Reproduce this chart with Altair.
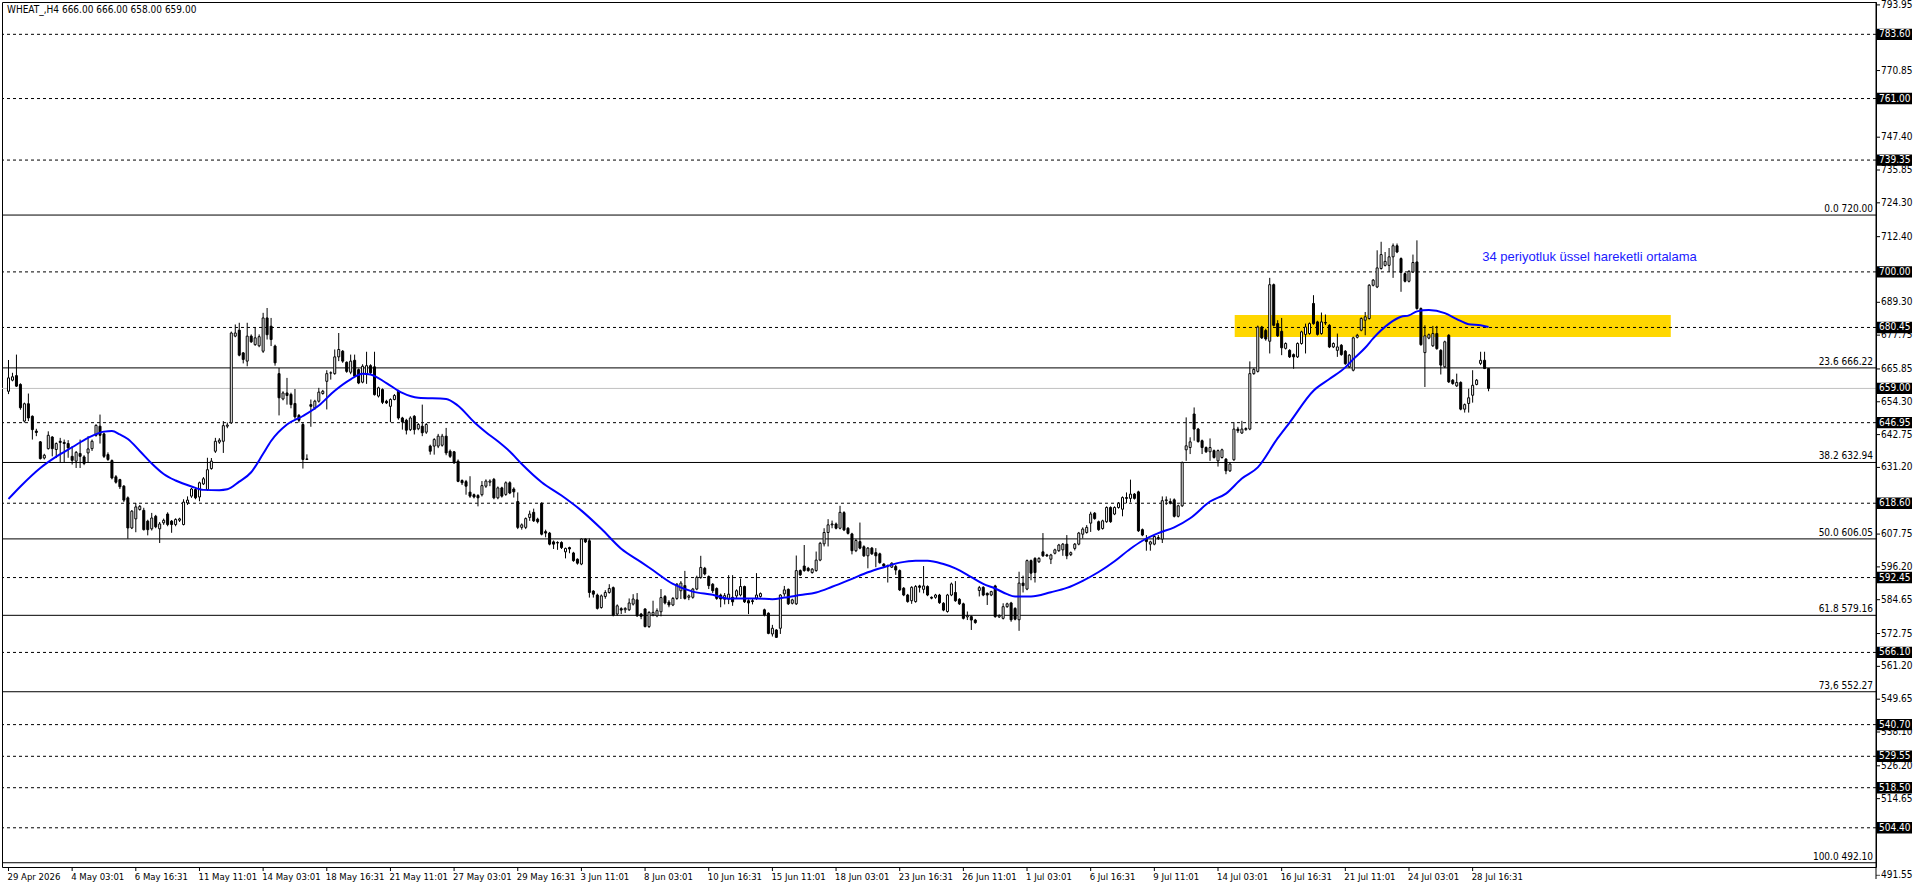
import altair as alt
import pandas as pd

FONT = "Tahoma, 'DejaVu Sans Condensed', 'Liberation Sans', sans-serif"

# ---------------- data: H4 candles (index = bar number) ----------------
opens = [
    658.0, 661.9, 663.5, 660.4, 647.5, 653.6, 649.2, 644.0, 640.2, 634.5,
    637.8, 641.9, 637.5, 640.4, 640.0, 639.6, 635.1, 633.4, 636.1, 634.9,
    636.3, 637.8, 642.5, 645.7, 643.0, 635.7, 633.6, 627.9, 626.9, 624.6,
    620.5, 609.9, 613.1, 616.4, 616.1, 612.3, 609.6, 614.0, 609.6, 611.7,
    614.8, 612.3, 611.1, 612.6, 611.1, 618.7, 621.1, 623.4, 620.8, 625.4,
    623.4, 630.8, 636.9, 640.1, 640.4, 645.7, 646.9, 677.4, 679.5, 671.5,
    668.6, 677.4, 674.4, 674.0, 672.1, 683.8, 680.9, 673.9, 664.2, 655.3,
    657.4, 656.9, 653.7, 649.5, 646.3, 634.0, 653.3, 652.1, 654.5, 657.2,
    661.5, 664.4, 664.2, 670.1, 672.1, 668.2, 664.7, 668.9, 665.6, 661.2,
    663.9, 667.0, 666.6, 656.3, 658.6, 654.5, 652.7, 655.1, 658.0, 648.6,
    647.8, 644.5, 649.2, 644.8, 645.7, 643.6, 638.7, 638.7, 638.7, 639.0,
    642.2, 636.9, 636.7, 633.4, 626.6, 626.2, 622.5, 621.6, 621.3, 621.6,
    624.6, 626.0, 627.0, 620.5, 624.0, 621.7, 625.8, 623.6, 619.2, 610.1,
    610.1, 613.6, 615.4, 613.0, 618.6, 608.6, 608.1, 605.0, 604.6, 604.8,
    601.5, 603.0, 601.1, 598.9, 597.2, 606.0, 605.4, 587.7, 586.3, 581.9,
    585.8, 587.2, 588.9, 579.6, 581.5, 581.1, 581.1, 583.1, 584.6, 579.6,
    581.4, 575.2, 579.3, 579.0, 580.4, 585.8, 583.8, 582.8, 585.1, 587.8,
    589.6, 585.5, 585.5, 588.4, 592.5, 595.7, 592.8, 590.1, 588.6, 586.3,
    584.8, 584.9, 585.5, 586.0, 586.3, 589.3, 584.3, 584.3, 585.2, 585.8,
    581.1, 579.9, 572.6, 574.0, 574.6, 586.7, 588.3, 583.4, 583.2, 594.9,
    596.5, 595.7, 594.2, 594.9, 598.6, 604.3, 608.3, 611.0, 611.3, 609.8,
    615.3, 609.8, 607.8, 601.9, 605.1, 603.3, 600.1, 602.8, 601.2, 600.8,
    597.2, 596.5, 596.1, 596.3, 594.9, 588.7, 586.3, 584.3, 584.0, 589.5,
    588.3, 589.3, 585.5, 585.5, 586.3, 583.4, 580.5, 586.3, 587.2, 584.8,
    583.2, 578.6, 578.7, 577.5, 587.9, 589.0, 586.9, 586.3, 589.5, 578.6,
    578.1, 582.2, 583.5, 581.6, 577.6, 590.5, 588.4, 598.4, 599.2, 598.0,
    601.5, 600.4, 598.9, 601.0, 601.9, 602.2, 604.2, 600.5, 602.7, 604.2,
    607.7, 608.3, 611.6, 615.1, 612.1, 609.7, 612.1, 617.1, 614.8, 617.1,
    616.5, 620.6, 620.3, 621.8, 622.6, 609.3, 605.9, 604.2, 604.2, 606.5,
    606.0, 619.5, 619.2, 619.8, 614.0, 617.7, 637.4, 638.2, 650.0, 644.7,
    640.6, 638.2, 636.7, 637.1, 633.5, 634.7, 634.1, 630.0, 633.9, 644.7,
    643.3, 644.5, 644.7, 664.2, 665.0, 680.6, 679.4, 675.6, 695.5, 681.8,
    679.1, 673.1, 672.4, 670.9, 670.1, 674.8, 678.0, 678.3, 688.9, 682.4,
    678.3, 682.2, 681.2, 673.6, 672.4, 674.2, 672.1, 666.6, 665.4, 677.0,
    679.5, 683.0, 683.6, 695.3, 694.7, 701.2, 702.3, 702.3, 705.3, 709.2,
    704.7, 699.4, 696.7, 700.0, 703.5, 687.1, 671.6, 676.7, 674.0, 678.3,
    672.4, 666.6, 677.7, 661.9, 659.9, 661.1, 651.7, 653.7, 656.6, 660.4,
    667.8, 668.9, 666.0,
]
highs = [
    669.0, 664.5, 670.9, 660.8, 654.0, 657.2, 649.5, 644.8, 640.5, 636.0,
    643.9, 642.2, 640.0, 641.6, 641.0, 640.8, 638.7, 637.0, 641.0, 635.5,
    642.2, 641.0, 646.4, 649.8, 643.5, 636.5, 634.0, 628.5, 627.2, 625.0,
    621.0, 616.2, 618.7, 618.0, 617.0, 612.8, 615.2, 614.5, 612.0, 613.2,
    615.4, 612.7, 613.3, 613.5, 620.0, 621.0, 624.0, 624.0, 626.2, 627.8,
    634.6, 634.5, 641.6, 641.5, 647.5, 647.0, 679.0, 681.5, 682.1, 671.8,
    682.1, 678.0, 680.6, 678.0, 685.6, 687.3, 683.8, 674.4, 666.2, 658.0,
    662.7, 657.5, 658.8, 650.0, 646.9, 635.8, 655.1, 655.0, 659.2, 658.5,
    665.4, 665.0, 672.7, 678.5, 672.5, 668.5, 670.9, 670.9, 666.0, 667.5,
    671.9, 667.5, 671.9, 659.6, 659.0, 655.0, 655.5, 657.0, 658.5, 649.0,
    648.3, 649.2, 649.6, 646.8, 653.3, 646.8, 639.2, 641.5, 643.0, 643.0,
    645.1, 637.5, 637.0, 634.0, 627.0, 626.8, 628.1, 622.0, 621.8, 626.4,
    627.0, 627.0, 627.5, 624.5, 624.4, 626.3, 626.3, 624.2, 622.4, 611.5,
    613.6, 616.0, 616.7, 613.5, 618.9, 609.3, 608.5, 605.5, 605.2, 605.2,
    603.0, 603.3, 601.5, 599.2, 606.2, 606.2, 606.2, 588.0, 586.8, 586.5,
    588.0, 590.1, 589.3, 583.0, 582.0, 582.0, 585.1, 586.6, 587.0, 580.0,
    581.6, 580.6, 584.3, 581.6, 588.4, 586.3, 584.5, 585.6, 590.5, 591.2,
    594.8, 586.5, 588.8, 593.1, 600.1, 596.2, 593.2, 590.5, 589.0, 586.8,
    587.0, 593.3, 593.3, 588.3, 592.1, 589.6, 584.8, 585.0, 594.0, 587.2,
    581.5, 580.2, 575.8, 574.3, 586.6, 589.5, 588.6, 585.0, 600.2, 595.3,
    603.9, 596.2, 595.8, 601.6, 605.0, 609.8, 613.0, 612.5, 611.8, 617.7,
    615.8, 610.2, 608.2, 606.0, 611.8, 603.8, 603.2, 603.2, 602.8, 601.2,
    597.5, 597.0, 597.8, 596.9, 595.3, 589.1, 586.7, 589.4, 589.8, 589.9,
    596.5, 589.7, 585.8, 586.7, 586.7, 583.8, 586.7, 590.7, 591.2, 585.2,
    583.6, 580.5, 579.1, 577.9, 589.5, 589.4, 587.2, 587.8, 589.9, 579.5,
    583.4, 583.6, 583.9, 582.0, 594.5, 593.1, 598.8, 598.8, 599.6, 599.6,
    608.1, 600.8, 600.8, 602.6, 604.3, 604.6, 607.4, 601.6, 604.6, 608.5,
    610.1, 610.9, 615.6, 615.5, 612.5, 612.8, 617.5, 617.5, 617.5, 619.0,
    621.0, 622.4, 626.9, 622.2, 623.0, 609.7, 607.4, 605.4, 607.3, 607.4,
    621.0, 621.0, 620.3, 620.3, 618.1, 633.3, 648.8, 641.8, 652.3, 645.1,
    641.0, 638.6, 641.4, 637.5, 637.5, 637.8, 634.5, 632.8, 647.1, 645.5,
    647.6, 645.3, 668.5, 666.1, 681.1, 681.0, 680.0, 697.9, 695.9, 683.0,
    683.8, 675.2, 672.8, 671.3, 675.2, 679.3, 681.8, 682.2, 691.8, 682.8,
    685.7, 685.0, 681.6, 675.2, 678.3, 674.6, 672.5, 671.1, 677.2, 678.2,
    684.0, 685.9, 695.7, 697.5, 707.6, 710.6, 707.0, 708.4, 710.0, 710.0,
    705.1, 699.8, 700.6, 706.1, 711.1, 687.5, 681.2, 678.3, 681.0, 681.0,
    672.8, 675.8, 678.1, 662.3, 664.2, 661.5, 653.7, 658.9, 665.4, 662.3,
    671.9, 671.9, 666.0,
]
lows = [
    657.0, 661.5, 659.5, 651.5, 647.0, 647.5, 641.0, 642.2, 634.0, 634.0,
    637.5, 635.1, 634.5, 632.8, 632.8, 634.6, 632.2, 631.0, 631.0, 632.0,
    632.8, 637.0, 642.0, 639.6, 634.5, 633.5, 627.0, 625.5, 623.6, 619.0,
    606.1, 609.5, 608.4, 616.0, 609.0, 607.3, 609.0, 609.8, 604.6, 611.0,
    610.5, 608.2, 610.5, 612.0, 610.8, 618.0, 620.5, 620.0, 619.3, 625.0,
    623.0, 630.4, 636.3, 639.5, 636.3, 645.0, 646.5, 677.0, 670.3, 667.8,
    666.8, 675.0, 674.0, 673.5, 671.5, 676.2, 673.9, 667.0, 649.5, 654.8,
    653.3, 652.0, 648.3, 647.0, 630.8, 633.8, 645.5, 651.5, 654.0, 656.8,
    651.6, 662.1, 663.8, 668.6, 668.0, 664.5, 664.0, 663.0, 660.5, 660.8,
    660.6, 664.0, 656.5, 655.8, 653.5, 653.5, 647.1, 654.8, 648.0, 644.5,
    642.8, 644.0, 642.8, 644.3, 642.2, 643.0, 635.7, 635.7, 638.0, 638.5,
    635.5, 634.5, 632.5, 626.0, 625.0, 621.6, 620.5, 620.3, 617.5, 621.0,
    624.0, 624.6, 620.0, 620.0, 620.6, 621.2, 621.8, 620.6, 609.5, 609.3,
    609.5, 612.4, 612.0, 611.5, 607.3, 606.6, 603.8, 602.5, 602.2, 602.5,
    599.2, 601.0, 598.0, 597.0, 596.8, 604.6, 585.4, 585.4, 581.2, 581.5,
    585.0, 586.8, 578.8, 579.0, 579.6, 580.0, 580.7, 582.6, 578.6, 577.8,
    574.9, 574.7, 578.8, 578.5, 578.8, 583.0, 582.0, 582.4, 584.6, 584.9,
    584.7, 584.5, 585.0, 588.0, 592.0, 593.2, 588.4, 587.0, 584.6, 582.0,
    583.0, 583.1, 582.5, 584.9, 585.8, 583.5, 579.6, 583.0, 584.6, 585.4,
    578.8, 572.5, 571.7, 571.2, 572.6, 585.8, 582.8, 583.0, 582.8, 593.0,
    594.5, 594.5, 593.8, 594.5, 598.2, 603.4, 603.4, 609.8, 609.4, 609.4,
    608.8, 607.6, 600.6, 601.4, 602.4, 599.7, 595.7, 600.4, 596.1, 597.3,
    596.1, 590.7, 595.8, 593.4, 587.7, 585.9, 583.6, 583.2, 583.6, 587.2,
    586.9, 585.9, 584.8, 585.0, 583.2, 580.6, 580.1, 585.9, 583.9, 582.8,
    577.7, 577.5, 574.0, 576.2, 585.8, 585.9, 582.8, 585.9, 578.3, 578.2,
    577.7, 581.8, 576.9, 577.4, 573.7, 587.2, 588.0, 591.5, 590.7, 597.6,
    599.7, 599.7, 597.2, 600.6, 601.5, 600.1, 598.9, 600.0, 602.0, 603.8,
    606.2, 607.9, 608.5, 612.8, 608.9, 609.3, 611.7, 611.7, 614.4, 616.7,
    614.0, 618.6, 618.9, 619.9, 608.5, 607.0, 601.9, 601.9, 603.8, 605.7,
    604.6, 618.0, 618.2, 613.6, 613.6, 617.3, 633.5, 635.9, 640.6, 639.9,
    635.9, 636.3, 633.5, 634.3, 631.5, 634.3, 628.8, 629.6, 633.5, 643.3,
    643.0, 644.1, 644.3, 663.8, 664.6, 676.4, 675.8, 671.3, 680.8, 677.1,
    670.7, 672.7, 669.7, 665.9, 669.7, 674.4, 671.3, 677.9, 681.4, 677.6,
    677.9, 681.3, 673.2, 673.2, 670.1, 670.5, 667.3, 666.2, 665.0, 676.6,
    679.1, 677.7, 683.2, 694.9, 694.3, 700.8, 701.9, 700.0, 697.9, 706.6,
    693.0, 696.3, 696.3, 699.6, 686.7, 674.0, 659.5, 676.3, 673.6, 672.6,
    663.9, 666.2, 660.9, 660.3, 659.5, 651.3, 650.5, 650.5, 654.0, 660.1,
    667.2, 665.8, 658.0,
]
closes = [
    662.7, 663.1, 659.8, 652.2, 653.6, 648.6, 644.5, 643.5, 634.3, 635.5,
    642.5, 637.8, 639.6, 640.0, 639.6, 638.1, 633.7, 636.5, 635.1, 632.6,
    637.7, 640.4, 646.0, 642.5, 635.1, 634.0, 627.5, 626.0, 624.4, 619.7,
    609.9, 615.8, 617.3, 617.5, 609.3, 609.3, 613.4, 610.3, 611.3, 612.6,
    611.1, 611.1, 612.9, 613.1, 619.0, 619.7, 623.6, 620.5, 625.8, 627.2,
    630.4, 633.4, 640.4, 640.8, 645.9, 646.1, 678.5, 678.5, 670.7, 669.2,
    677.4, 675.4, 676.8, 677.2, 683.8, 677.9, 676.2, 668.0, 655.7, 657.4,
    656.5, 653.3, 649.0, 647.8, 634.0, 634.2, 652.7, 654.5, 657.7, 658.0,
    664.2, 664.5, 670.1, 672.7, 668.6, 665.0, 668.6, 663.3, 660.9, 666.8,
    667.0, 664.5, 656.8, 659.2, 654.1, 653.9, 655.1, 656.5, 648.6, 647.2,
    644.3, 648.6, 644.5, 646.3, 643.4, 646.3, 636.9, 641.0, 642.2, 642.2,
    636.3, 635.1, 632.8, 626.3, 625.8, 624.6, 621.1, 620.8, 620.5, 624.8,
    626.4, 626.4, 620.5, 624.0, 621.1, 625.8, 622.2, 622.6, 610.1, 611.0,
    613.2, 614.8, 612.4, 612.1, 607.7, 608.1, 604.2, 604.2, 604.8, 603.0,
    602.7, 602.5, 598.4, 597.5, 606.0, 605.0, 587.2, 586.6, 581.6, 586.0,
    587.2, 588.6, 579.2, 582.5, 581.0, 581.6, 583.5, 584.9, 579.0, 578.8,
    575.2, 580.2, 580.2, 580.8, 585.4, 583.5, 582.8, 585.1, 590.1, 590.5,
    585.1, 586.0, 588.4, 592.5, 596.0, 593.7, 589.6, 587.8, 585.1, 584.9,
    586.1, 586.6, 583.9, 587.8, 589.3, 583.9, 583.5, 584.0, 586.3, 586.8,
    579.3, 572.8, 574.6, 571.4, 586.3, 588.1, 583.2, 584.6, 594.9, 593.4,
    594.9, 594.9, 595.4, 598.6, 604.5, 608.3, 611.0, 611.3, 609.8, 615.4,
    609.2, 608.0, 601.9, 605.5, 602.8, 600.1, 602.8, 600.8, 600.1, 597.7,
    596.5, 596.6, 597.5, 595.1, 588.1, 586.3, 584.0, 589.0, 589.3, 589.0,
    589.5, 586.3, 585.2, 586.3, 583.6, 581.0, 586.3, 590.2, 584.3, 583.2,
    578.1, 579.1, 577.5, 576.6, 588.9, 586.3, 586.3, 587.5, 578.7, 579.1,
    582.2, 583.2, 577.6, 577.8, 590.5, 589.6, 598.4, 594.0, 594.2, 599.2,
    600.1, 600.1, 600.4, 602.2, 603.9, 604.2, 600.1, 601.2, 604.2, 608.1,
    609.5, 610.1, 614.8, 613.2, 609.3, 612.4, 617.1, 612.1, 617.1, 618.6,
    620.6, 620.3, 621.8, 620.3, 608.9, 607.4, 605.1, 605.0, 606.9, 606.2,
    619.5, 619.8, 618.6, 614.0, 617.7, 632.9, 638.8, 640.2, 644.7, 640.3,
    638.2, 636.7, 638.2, 634.7, 637.1, 637.4, 630.0, 632.4, 644.7, 644.1,
    644.7, 644.9, 664.2, 665.7, 680.6, 676.8, 676.4, 695.5, 681.2, 677.5,
    673.3, 674.8, 670.1, 670.1, 674.8, 678.9, 680.6, 681.8, 681.8, 678.0,
    682.4, 682.0, 673.6, 674.8, 673.6, 670.9, 667.7, 670.7, 676.8, 677.7,
    683.6, 684.2, 695.3, 697.1, 701.4, 706.1, 703.7, 705.3, 709.2, 707.0,
    699.8, 696.7, 700.2, 703.3, 687.1, 674.4, 677.5, 677.9, 678.3, 673.0,
    667.2, 675.4, 661.3, 660.7, 661.1, 651.7, 653.3, 655.7, 660.1, 661.9,
    668.9, 666.0, 659.0,
]

# 34-period EMA (bar index, value)
ema_idx = [0, 3, 8, 12, 16, 20, 24, 26, 28, 30, 33, 36, 39, 42, 46, 49, 53, 55, 58, 61,
           64, 66, 70, 74, 78, 82, 86, 89, 91, 95, 99, 103, 110, 113, 117, 120, 123, 126, 129, 134,
           139, 144, 149, 154, 159, 162, 167, 172, 177, 181, 184, 188, 192, 195, 199, 203, 207, 212, 216, 220,
           224, 228, 231, 235, 238, 242, 245, 248, 251, 253, 257, 262, 266, 270, 274, 278, 282, 285, 289, 293,
           297, 302, 306, 310, 314, 319, 322, 328, 332, 336, 338, 341, 343, 347, 350, 352, 354, 357, 361, 364,
           367, 370, 372]
ema_val = [620.1, 624.5, 631.0, 635.0, 638.3, 641.6, 643.8, 644.0, 642.8, 641.2, 637.0, 632.6, 628.9, 626.6, 624.5, 623.3, 623.2, 623.5, 626.2, 629.5,
           636.0, 640.5, 646.3, 649.3, 653.0, 658.2, 662.2, 664.2, 663.9, 660.9, 657.4, 655.7, 655.3, 652.9, 647.2, 643.6, 640.4, 636.8, 632.4, 626.0,
           621.3, 616.0, 609.6, 602.6, 597.9, 595.0, 590.2, 587.5, 586.4, 585.0, 585.1, 585.1, 584.8, 585.4, 586.3, 587.2, 589.2, 592.0, 594.3, 596.1,
           597.7, 598.4, 598.4, 597.2, 595.7, 592.6, 590.2, 588.6, 586.6, 585.8, 585.8, 587.3, 588.8, 591.3, 594.4, 598.2, 602.6, 605.4, 608.1, 610.1,
           613.3, 619.2, 622.0, 627.3, 631.2, 641.5, 647.0, 658.2, 662.3, 666.4, 669.3, 673.3, 676.6, 681.8, 684.2, 684.7, 686.1, 686.6, 685.5, 683.4,
           681.6, 681.2, 680.6]

time_labels = ["29 Apr 2026", "4 May 03:01", "6 May 16:31", "11 May 11:01", "14 May 03:01",
               "18 May 16:31", "21 May 11:01", "27 May 03:01", "29 May 16:31", "3 Jun 11:01",
               "8 Jun 03:01", "10 Jun 16:31", "15 Jun 11:01", "18 Jun 03:01", "23 Jun 16:31",
               "26 Jun 11:01", "1 Jul 03:01", "6 Jul 16:31", "9 Jul 11:01", "14 Jul 03:01",
               "16 Jul 16:31", "21 Jul 11:01", "24 Jul 03:01", "28 Jul 16:31"]
time_ticks = [0, 16, 32, 48, 64, 80, 96, 112, 128, 144, 160, 176, 192, 208, 224,
              240, 256, 272, 288, 304, 320, 336, 352, 368]

price_ticks = [793.95, 770.85, 747.40, 735.85, 724.30, 712.40, 689.30,
               677.75, 665.85, 654.30, 642.75, 631.20, 607.75, 596.20, 584.65, 572.75,
               561.20, 549.65, 538.10, 526.20, 514.65]
bottom_tick = [491.55]

dashed_levels = [783.60, 761.00, 739.35, 700.00, 680.45, 646.95, 618.60, 592.45,
                 566.10, 540.70, 529.55, 518.50, 504.40]
fib_levels = [720.00, 666.22, 632.94, 606.05, 579.16, 552.27, 492.10]
fib_names = ["0.0 720.00", "23.6 666.22", "38.2 632.94", "50.0 606.05",
             "61.8 579.16", "73,6 552.27", "100.0 492.10"]
current_price = [659.00]

zone_x = [308.2, 417.8]
zone_y = [677.1, 684.8]

title_text = "WHEAT_,H4  666.00 666.00 658.00 659.00"
annot_text = "34 periyotluk üssel hareketli ortalama"
annot_pos = [370.4, 705.2]

# ---------------- chart ----------------
W, H = 1874, 865
xscale = alt.Scale(domain=[-0.375, 468.125], nice=False, zero=False)
yscale = alt.Scale(domain=[490.6, 794.97], nice=False, zero=False)

candles = pd.DataFrame({"i": list(range(len(closes))), "o": opens, "h": highs,
                        "l": lows, "c": closes})
candles["dir"] = ["up" if c >= o else "down" for o, c in zip(opens, closes)]

zone = alt.Chart(pd.DataFrame({"x1": [zone_x[0]], "x2": [zone_x[1]],
                               "y1": [zone_y[0]], "y2": [zone_y[1]]})).mark_rect(
    color="#FFD700").encode(
    x=alt.X("x1:Q", scale=xscale, axis=None), x2="x2:Q",
    y=alt.Y("y1:Q", scale=yscale, axis=None), y2="y2:Q")

dashed = alt.Chart(pd.DataFrame({"lv": dashed_levels})).mark_rule(
    color="black", strokeWidth=1, strokeDash=[3, 3]).encode(
    y=alt.Y("lv:Q", scale=yscale, axis=None))

fibs = alt.Chart(pd.DataFrame({"lv": fib_levels, "name": fib_names})).mark_rule(
    color="black", strokeWidth=1).encode(y=alt.Y("lv:Q", scale=yscale, axis=None))

cur = alt.Chart(pd.DataFrame({"lv": current_price})).mark_rule(
    color="#c0c0c0", strokeWidth=1).encode(y=alt.Y("lv:Q", scale=yscale, axis=None))

wicks = alt.Chart(candles).mark_rule(color="black", strokeWidth=1).encode(
    x=alt.X("i:Q", scale=xscale, axis=None),
    y=alt.Y("l:Q", scale=yscale, axis=None),
    y2="h:Q")

bodies = alt.Chart(candles).mark_bar(size=2, stroke="black", strokeWidth=1).encode(
    x=alt.X("i:Q", scale=xscale, axis=None),
    y=alt.Y("o:Q", scale=yscale, axis=None),
    y2="c:Q",
    fill=alt.Fill("dir:N", scale=alt.Scale(domain=["up", "down"], range=["white", "black"]),
                  legend=None))

ema = alt.Chart(pd.DataFrame({"i": ema_idx, "v": ema_val})).mark_line(
    color="#0000FF", strokeWidth=2, interpolate="monotone").encode(
    x=alt.X("i:Q", scale=xscale, axis=None),
    y=alt.Y("v:Q", scale=yscale, axis=None))

fib_text = alt.Chart(pd.DataFrame({"lv": fib_levels, "name": fib_names})).mark_text(
    align="right", baseline="bottom", dy=-1, font=FONT, fontSize=10, color="black").encode(
    x=alt.value(W - 3), y=alt.Y("lv:Q", scale=yscale, axis=None), text="name:N")

# right-hand price scale line
right_line = alt.Chart(pd.DataFrame({"a": [0]})).mark_rule(color="black", strokeWidth=1).encode(
    x=alt.value(W), y=alt.value(0), y2=alt.value(H + 12))

# price scale: ticks and labels
pt_df = pd.DataFrame({"p": price_ticks, "lab": ["%.2f" % v for v in price_ticks]})
y_ticks = alt.Chart(pt_df).mark_rule(color="black", strokeWidth=1).encode(
    x=alt.value(W), x2=alt.value(W + 4), y=alt.Y("p:Q", scale=yscale, axis=None))
y_labels = alt.Chart(pt_df).mark_text(
    align="left", baseline="middle", font=FONT, fontSize=10, color="black").encode(
    x=alt.value(W + 5), y=alt.Y("p:Q", scale=yscale, axis=None), text="lab:N")

# bottom price label (MT4 draws it just under the last grid position)
bt_df = pd.DataFrame({"p": bottom_tick, "lab": ["%.2f" % v for v in bottom_tick]})
b_tick = alt.Chart(bt_df).mark_tick(color="black", thickness=1, size=4, orient="horizontal",
                                    xOffset=2, yOffset=11).encode(
    x=alt.value(W), y=alt.Y("p:Q", scale=yscale, axis=None))
b_label = alt.Chart(bt_df).mark_text(
    align="left", baseline="middle", dy=11, font=FONT, fontSize=10, color="black").encode(
    x=alt.value(W + 5), y=alt.Y("p:Q", scale=yscale, axis=None), text="lab:N")

# time scale: ticks and labels
tt_df = pd.DataFrame({"i": time_ticks, "lab": time_labels})
x_ticks = alt.Chart(tt_df).mark_rule(color="black", strokeWidth=1).encode(
    x=alt.X("i:Q", scale=xscale, axis=None), y=alt.value(H), y2=alt.value(H + 4))
x_labels = alt.Chart(tt_df).mark_text(
    align="left", baseline="top", dx=-1, font=FONT, fontSize=9.5, color="black").encode(
    x=alt.X("i:Q", scale=xscale, axis=None), y=alt.value(H + 5), text="lab:N")

box_levels = dashed_levels + current_price
box_df = pd.DataFrame({"lv": box_levels, "lab": ["%.2f" % v for v in box_levels]})
boxes = alt.Chart(box_df).transform_calculate(
    top="datum.lv + 2.0", bot="datum.lv - 2.0").mark_rect(color="black").encode(
    x=alt.value(W + 1), x2=alt.value(W + 36),
    y=alt.Y("top:Q", scale=yscale, axis=None), y2="bot:Q")
box_text = alt.Chart(box_df).mark_text(
    align="left", baseline="middle", font=FONT, fontSize=10, color="white").encode(
    x=alt.value(W + 3), y=alt.Y("lv:Q", scale=yscale, axis=None), text="lab:N")

title = alt.Chart(pd.DataFrame({"t": [title_text]})).mark_text(
    align="left", baseline="middle", font=FONT, fontSize=10, color="black").encode(
    x=alt.value(5), y=alt.value(8), text="t:N")

annot = alt.Chart(pd.DataFrame({"x": [annot_pos[0]], "y": [annot_pos[1]], "t": [annot_text]})).mark_text(
    align="left", baseline="middle", font="'Liberation Sans', Arial, sans-serif", fontSize=13,
    color="#1a1aff").encode(
    x=alt.X("x:Q", scale=xscale, axis=None), y=alt.Y("y:Q", scale=yscale, axis=None), text="t:N")

chart = alt.layer(zone, dashed, fibs, cur, wicks, bodies, ema, fib_text,
                  right_line, y_ticks, y_labels, b_tick, b_label, x_ticks, x_labels,
                  boxes, box_text, title, annot).properties(
    width=W, height=H,
    padding={"left": 2, "top": 2, "right": 40, "bottom": 21},
    autosize=alt.AutoSizeParams(type="none"),
    background="white",
).configure_view(stroke="black", strokeWidth=1)

chart.save("out.html", embed_options={"renderer": "svg", "actions": False})
